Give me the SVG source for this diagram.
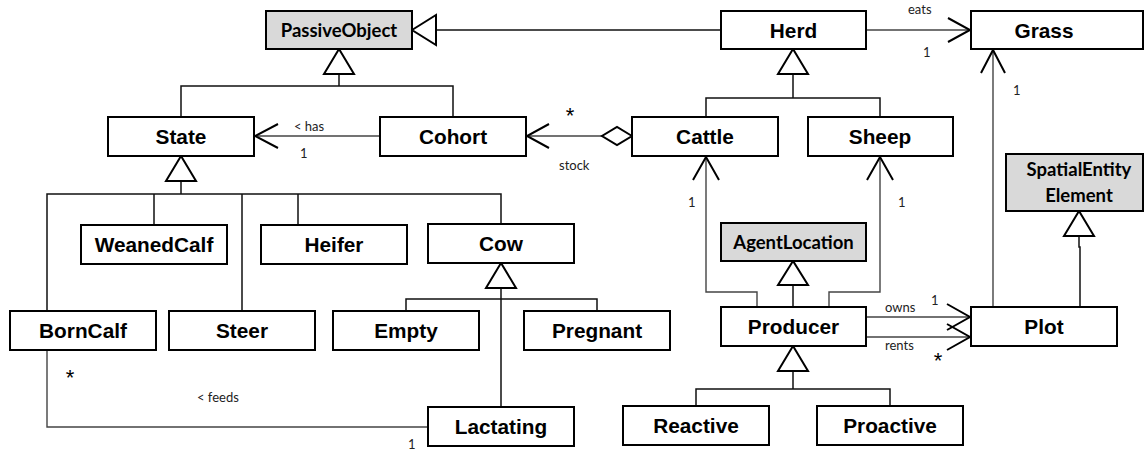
<svg xmlns="http://www.w3.org/2000/svg" width="1147" height="450" viewBox="0 0 1147 450">
  <style>
    .box { fill: #ffffff; stroke: #000000; stroke-width: 2; }
    .abs { fill: #d9d9d9; stroke: #000000; stroke-width: 2; }
    .lbl { font-family: "Liberation Sans", Arial, sans-serif; font-weight: bold; font-size: 20.8px; text-anchor: middle; fill: #000; }
    .glbl { font-family: Lato, "Open Sans", sans-serif; font-weight: bold; font-size: 18.5px; text-anchor: middle; fill: #000; }
    .gen { fill: none; stroke: #111; stroke-width: 1.5; }
    .tri { fill: #ffffff; stroke: #000; stroke-width: 2; stroke-linejoin: miter; }
    .assoc { fill: none; stroke: #444; stroke-width: 1.4; }
    .head { fill: none; stroke: #000; stroke-width: 2; }
    .dia { fill: #ffffff; stroke: #000; stroke-width: 2; }
    .note { font-family: Lato, "Open Sans", sans-serif; font-size: 13px; fill: #222; }
    .star { font-family: "Liberation Sans", Arial, sans-serif; font-size: 22px; fill: #000; text-anchor: middle; }
  </style>

  <!-- connectors: generalizations, associations, aggregation -->
  <g id="connectors">
    <!-- Herd -> PassiveObject -->
    <path class="gen" d="M721,30 H436"/>
    <polygon class="tri" points="412,30 436,15 436,45"/>

    <!-- State, Cohort -> PassiveObject -->
    <path class="gen" d="M339,74 V86 M181,117 V86 H453 V117"/>
    <polygon class="tri" points="339,49 324,74 354,74"/>

    <!-- Cohort -> State (has) -->
    <path class="assoc" d="M380,136 H254"/>
    <path class="head" d="M278,124 L255,136 L278,148"/>

    <!-- Cattle <>- Cohort (stock) -->
    <path class="assoc" d="M602,136 H526"/>
    <path class="head" d="M549,124 L527,136 L549,148"/>
    <polygon class="dia" points="632,136 617,127 602,136 617,145"/>

    <!-- Cattle, Sheep -> Herd -->
    <path class="gen" d="M793,74 V98 M706,117 V98 H880 V117"/>
    <polygon class="tri" points="793,49 778,74 808,74"/>

    <!-- Herd -> Grass (eats) -->
    <path class="assoc" d="M866,30 H971"/>
    <path class="head" d="M948,18 L970,30 L948,42"/>

    <!-- Plot -> Grass -->
    <path class="assoc" d="M993,307 V50"/>
    <path class="head" d="M981,73 L993,50 L1005,73"/>

    <!-- Producer -> Cattle / Sheep -->
    <path class="assoc" d="M757,307 V292 H706 V157"/>
    <path class="head" d="M693,180 L706,157 L719,180"/>
    <path class="assoc" d="M829,307 V292 H880 V157"/>
    <path class="head" d="M867,180 L880,157 L893,180"/>

    <!-- Producer -> AgentLocation -->
    <path class="gen" d="M793,285 V307"/>
    <polygon class="tri" points="793,261 778,285 808,285"/>

    <!-- Producer -> Plot (owns / rents) -->
    <path class="assoc" d="M866,317 H970 M866,337 H970"/>
    <path class="head" d="M947,304 L970,317 L947,330"/>
    <path class="head" d="M947,324 L970,337 L947,350"/>

    <!-- Plot -> SpatialEntityElement -->
    <path class="gen" d="M1079,236 V247 H1080 V307"/>
    <polygon class="tri" points="1079,211 1064,236 1094,236"/>

    <!-- Reactive, Proactive -> Producer -->
    <path class="gen" d="M793,371 V389 M696,406 V389 H890 V406"/>
    <polygon class="tri" points="793,346 778,371 808,371"/>

    <!-- State subclasses -->
    <path class="gen" d="M181,181 V194 M47,311 V194 H501 V224 M154,194 V225 M242,194 V311 M298,194 V225"/>
    <polygon class="tri" points="181,156 166,181 196,181"/>

    <!-- Cow subclasses -->
    <path class="gen" d="M501,288 V407 M406,311 V299 H597 V311"/>
    <polygon class="tri" points="501,263 486,288 516,288"/>

    <!-- Lactating feeds BornCalf -->
    <path class="assoc" d="M47,350 V427 H428"/>
  </g>

  <!-- connector labels -->
  <g id="labels">
    <text class="note" x="294" y="131">&lt; has</text>
    <text class="note" x="300" y="158">1</text>
    <text class="star" x="570" y="123">*</text>
    <text class="note" x="559" y="170">stock</text>
    <text class="note" x="908" y="14">eats</text>
    <text class="note" x="923" y="57">1</text>
    <text class="note" x="1013" y="95">1</text>
    <text class="note" x="688" y="207">1</text>
    <text class="note" x="898" y="207">1</text>
    <text class="note" x="885" y="312">owns</text>
    <text class="note" x="931" y="305">1</text>
    <text class="note" x="885" y="350">rents</text>
    <text class="star" x="938" y="368">*</text>
    <text class="star" x="70" y="385">*</text>
    <text class="note" x="197" y="402">&lt; feeds</text>
    <text class="note" x="408" y="449">1</text>
  </g>

  <g id="PassiveObject">
    <rect class="abs" x="266" y="11" width="146" height="38"/>
    <text class="glbl" x="339" y="37">PassiveObject</text>
  </g>
  <g id="Herd">
    <rect class="box" x="721" y="11" width="145" height="38"/>
    <text class="lbl" x="793.5" y="38">Herd</text>
  </g>
  <g id="Grass">
    <rect class="box" x="971" y="11" width="172" height="38"/>
    <text class="lbl" x="1044" y="38">Grass</text>
  </g>
  <g id="State">
    <rect class="box" x="108" y="117" width="146" height="39"/>
    <text class="lbl" x="181" y="144">State</text>
  </g>
  <g id="Cohort">
    <rect class="box" x="380" y="117" width="146" height="39"/>
    <text class="lbl" x="453" y="144">Cohort</text>
  </g>
  <g id="Cattle">
    <rect class="box" x="632" y="117" width="146" height="39"/>
    <text class="lbl" x="705" y="144">Cattle</text>
  </g>
  <g id="Sheep">
    <rect class="box" x="808" y="117" width="145" height="39"/>
    <text class="lbl" x="880" y="144">Sheep</text>
  </g>
  <g id="SpatialEntityElement">
    <rect class="abs" x="1006" y="154" width="137" height="57"/>
    <text class="glbl" x="1079" y="176">SpatialEntity</text>
    <text class="glbl" x="1079" y="202">Element</text>
  </g>
  <g id="WeanedCalf">
    <rect class="box" x="81" y="225" width="146" height="39"/>
    <text class="lbl" x="154" y="252">WeanedCalf</text>
  </g>
  <g id="Heifer">
    <rect class="box" x="261" y="225" width="146" height="39"/>
    <text class="lbl" x="334" y="252">Heifer</text>
  </g>
  <g id="Cow">
    <rect class="box" x="428" y="224" width="146" height="39"/>
    <text class="lbl" x="501" y="251">Cow</text>
  </g>
  <g id="AgentLocation">
    <rect class="abs" x="721" y="223" width="145" height="38"/>
    <text class="glbl" x="793.5" y="249">AgentLocation</text>
  </g>
  <g id="BornCalf">
    <rect class="box" x="10" y="311" width="146" height="39"/>
    <text class="lbl" x="83" y="338">BornCalf</text>
  </g>
  <g id="Steer">
    <rect class="box" x="169" y="311" width="146" height="39"/>
    <text class="lbl" x="242" y="338">Steer</text>
  </g>
  <g id="Empty">
    <rect class="box" x="333" y="311" width="146" height="39"/>
    <text class="lbl" x="406" y="338">Empty</text>
  </g>
  <g id="Pregnant">
    <rect class="box" x="524" y="311" width="146" height="39"/>
    <text class="lbl" x="597" y="338">Pregnant</text>
  </g>
  <g id="Producer">
    <rect class="box" x="721" y="307" width="145" height="39"/>
    <text class="lbl" x="793.5" y="334">Producer</text>
  </g>
  <g id="Plot">
    <rect class="box" x="971" y="307" width="146" height="39"/>
    <text class="lbl" x="1044" y="334">Plot</text>
  </g>
  <g id="Lactating">
    <rect class="box" x="428" y="407" width="146" height="39"/>
    <text class="lbl" x="501" y="434">Lactating</text>
  </g>
  <g id="Reactive">
    <rect class="box" x="623" y="406" width="146" height="39"/>
    <text class="lbl" x="696" y="433">Reactive</text>
  </g>
  <g id="Proactive">
    <rect class="box" x="817" y="406" width="146" height="39"/>
    <text class="lbl" x="890" y="433">Proactive</text>
  </g>
</svg>
